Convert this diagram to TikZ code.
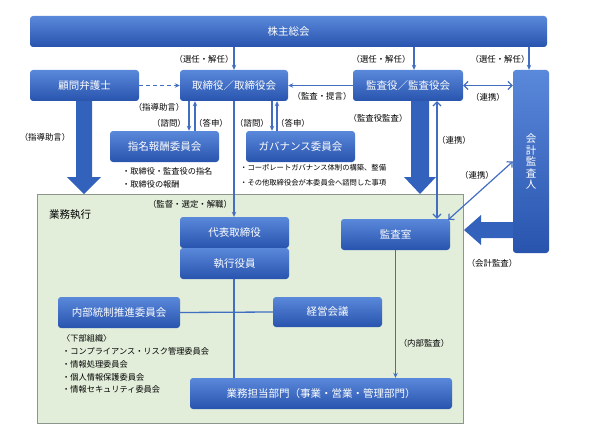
\documentclass[tikz,border=0pt]{standalone}
\usepackage{fontspec}
\setmainfont{Noto Sans CJK JP}
\usetikzlibrary{arrows.meta,calc}
\definecolor{bTop}{RGB}{90,136,218}
\definecolor{bBot}{RGB}{40,84,174}
\definecolor{lnc}{RGB}{66,110,194}
\definecolor{thk}{RGB}{50,98,188}
\definecolor{grn}{RGB}{226,238,218}
\definecolor{grb}{RGB}{140,150,140}
\begin{document}
\begin{tikzpicture}[x=1pt,y=-1pt,
  bx/.style={rounded corners=3pt, top color=bTop, bottom color=bBot, draw=none, text=white,
    font=\fontsize{10.5}{12}\selectfont, inner sep=0pt},
  lbl/.style={font=\fontsize{8.4}{9}\selectfont, text=black, inner sep=0pt},
  notea/.style={font=\fontsize{7.3}{9}\selectfont, anchor=west, inner sep=0pt},
  noteb/.style={font=\fontsize{8.2}{9}\selectfont, anchor=west, inner sep=0pt},
  conn/.style={draw=lnc, line width=1.3pt},
  arr/.style={conn, -{Stealth[length=5pt,width=4.5pt]}},
  barb/.style={draw=lnc, line width=1.2pt, {Straight Barb[length=4pt,width=8pt]}-{Straight Barb[length=4pt,width=8pt]}},
  blk/.style={fill=thk, draw=none}
]
\path[use as bounding box] (0,0) rectangle (596,441);
% execution area
\node[fill=grn, draw=grb, line width=0.8pt, minimum width=426pt, minimum height=229pt, inner sep=0pt] (exec) at (250,308.5) {};
\node[font=\fontsize{10.5}{12}\selectfont, inner sep=0pt] (execl) at (70,215) {業務執行};

% boxes
\node[bx, minimum width=517pt, minimum height=31pt] (kabu) at (288.5,31.5) {株主総会};
\node[bx, minimum width=109pt, minimum height=31pt] (komon) at (84.5,85.5) {顧問弁護士};
\node[bx, minimum width=108pt, minimum height=31pt] (tori) at (234,85.5) {取締役／取締役会};
\node[bx, minimum width=110pt, minimum height=31pt] (kansa) at (408,85.5) {監査役／監査役会};
\node[bx, minimum width=36pt, minimum height=183pt, align=center, font=\fontsize{10.5}{11.5}\selectfont] (kaikei) at (531,161.5) {会\\計\\監\\査\\人};
\node[bx, minimum width=109pt, minimum height=31pt] (shimei) at (164.5,146.5) {指名報酬委員会};
\node[bx, minimum width=109pt, minimum height=31pt] (gov) at (300.5,146.5) {ガバナンス委員会};
\node[bx, minimum width=109pt, minimum height=31pt] (daihyo) at (234.5,232.5) {代表取締役};
\node[bx, minimum width=109pt, minimum height=31pt] (shikko) at (234.5,263.5) {執行役員};
\node[bx, minimum width=109pt, minimum height=31pt] (kanshitsu) at (395.5,234.5) {監査室};
\node[bx, minimum width=122pt, minimum height=31pt] (naibu) at (119,312.5) {内部統制推進委員会};
\node[bx, minimum width=109pt, minimum height=30pt] (keiei) at (327.5,312) {経営会議};
\node[bx, minimum width=262pt, minimum height=31pt] (gyomu) at (321,393.5) {業務担当部門（事業・営業・管理部門）};

% thick block arrows
\fill[blk] (76,101) -- (76,177) -- (67,177) -- (84,194) -- (101,177) -- (92,177) -- (92,101) -- cycle;
\fill[blk] (411,101) -- (411,177) -- (404,177) -- (420,194) -- (436,177) -- (429,177) -- (429,101) -- cycle;
\fill[blk] (513,222) -- (481,222) -- (481,215) -- (464,230) -- (481,245) -- (481,238) -- (513,238) -- cycle;

% connectors
\draw[arr] (kabu.south -| tori.north) -- (tori.north);
\draw[arr] (kabu.south -| 414,0) -- (kansa.north -| 414,0);
\draw[arr] (kabu.south -| 529,0) -- (kaikei.north -| 529,0);
\draw[arr, dash pattern=on 4pt off 3pt] (komon.east) -- (tori.west);
\draw[arr] (kansa.west) -- (tori.east);
\draw[barb] (kansa.east) -- (kaikei.west |- kansa.east);
\draw[arr] (tori.south -| 189,0) -- (shimei.north -| 189,0);
\draw[arr] (shimei.north -| 195,0) -- (tori.south -| 195,0);
\draw[arr] (tori.south -| 272,0) -- (gov.north -| 272,0);
\draw[arr] (gov.north -| 277,0) -- (tori.south -| 277,0);
\draw[arr] (tori.south) -- (daihyo.north -| tori.south);
\draw[conn] (shikko.south -| tori.south) -- (gyomu.north -| tori.south);
\draw[conn] (naibu.east) -- (keiei.west);
\draw[arr] (kanshitsu.south) -- (gyomu.north -| kanshitsu.south);
\draw[barb] (kansa.south -| 437,0) -- (kanshitsu.north -| 437,0);
\draw[barb] ($(kanshitsu.north east)+(-2,1)$) -- (kaikei.west);

% labels
\node[lbl] (l1) at (204,59) {（選任・解任）};
\node[lbl] (l2) at (381,59) {（選任・解任）};
\node[lbl] (l3) at (500,59) {（選任・解任）};
\node[lbl] (l4) at (159,107) {（指導助言）};
\node[lbl] (l5) at (45,137) {（指導助言）};
\node[lbl] (l6) at (169,123) {（諮問）};
\node[lbl] (l7) at (211,123) {（答申）};
\node[lbl] (l8) at (252,123) {（諮問）};
\node[lbl] (l9) at (293,123) {（答申）};
\node[lbl] (l10) at (322,96) {（監査・提言）};
\node[lbl] (l11) at (488,97) {（連携）};
\node[lbl] (l12) at (378,118) {（監査役監査）};
\node[lbl] (l13) at (454,140) {（連携）};
\node[lbl] (l14) at (477,175) {（連携）};
\node[lbl] (l15) at (492,263) {（会計監査）};
\node[lbl] (l16) at (424,343) {（内部監査）};
\node[lbl] (l17) at (190,204) {（監督・選定・解職）};

% notes
\node[noteb] (n1) at (122,171) {・取締役・監査役の指名};
\node[noteb] (n2) at (122,184) {・取締役の報酬};
\node[notea] (n3) at (240,168) {・コーポレートガバナンス体制の構築、整備};
\node[notea] (n4) at (240,183) {・その他取締役会が本委員会へ諮問した事項};
\node[noteb] (n5) at (62,338) {〈下部組織〉};
\node[noteb] (n6) at (62,351) {・コンプライアンス・リスク管理委員会};
\node[noteb] (n7) at (62,364) {・情報処理委員会};
\node[noteb] (n8) at (62,377) {・個人情報保護委員会};
\node[noteb] (n9) at (62,389) {・情報セキュリティ委員会};
\end{tikzpicture}
\end{document}
